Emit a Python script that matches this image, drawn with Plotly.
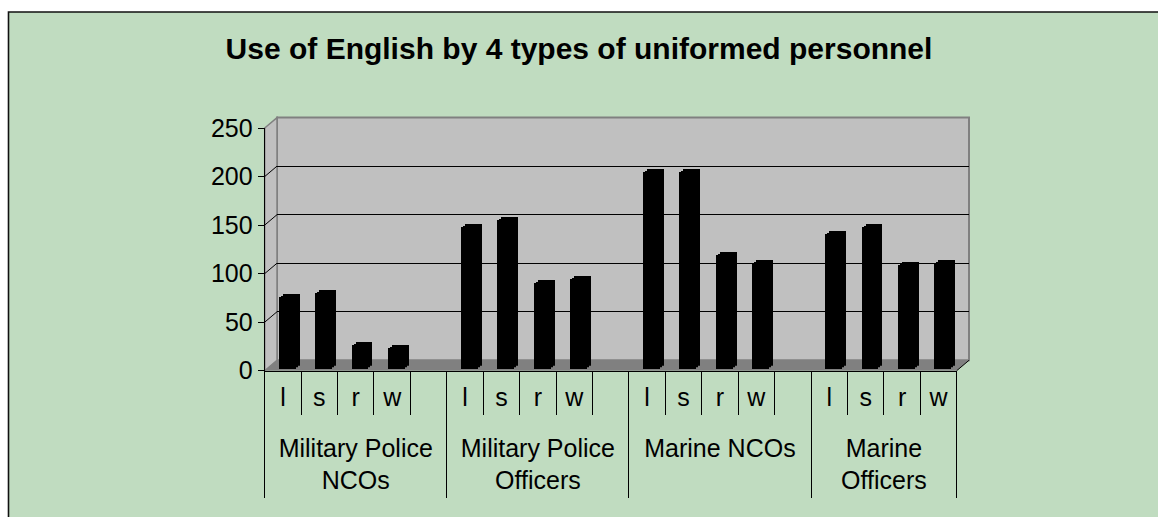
import plotly.graph_objects as go

# ---------------- data ----------------
title_text = "Use of English by 4 types of uniformed personnel"
groups = ["Military Police<br>NCOs", "Military Police<br>Officers", "Marine NCOs", "Marine<br>Officers"]
skills = ["l", "s", "r", "w"]
mp_ncos = [74, 78, 24, 21]
mp_officers = [146, 153, 88, 92]
marine_ncos = [203, 203, 117, 109]
marine_officers = [139, 146, 107, 109]
y_ticks = [0, 50, 100, 150, 200, 250]

series = [mp_ncos, mp_officers, marine_ncos, marine_officers]

# -------------- slot positions (one empty slot between groups) --------------
slot_x, bar_vals, slot_labels = [], [], []
group_bounds, group_centers = [-0.5], []
pos = 0
for gi, gvals in enumerate(series):
    start = pos
    for s, v in zip(skills, gvals):
        slot_x.append(pos)
        bar_vals.append(v)
        slot_labels.append(s)
        pos += 1
    if gi < len(series) - 1:
        pos += 1
    group_centers.append((start - 0.5 + pos - 0.5) / 2)
    group_bounds.append(pos - 0.5)
n_slots = pos
xr = [-0.5, n_slots - 0.5]
slot_bounds = [i - 0.5 for i in range(n_slots + 1)]
yr = [0, 250]

# -------------- pixel geometry helpers --------------
W, H = 1158, 517
def px(p):
    return p / W
def py(p):
    return 1 - p / H

FX0, FX1 = 264.7, 956.7        # front plane x extent
FY0, FY1 = 370.7, 128.0        # front plane y of 0 and 250
DX, DY = 12.3, -10.4           # depth offset to the back wall
unit_px = (FY0 - FY1) / (yr[1] - yr[0])

FONT = "Liberation Sans, Arial, sans-serif"
GREEN = "#C0DCC0"
WALL = "#C0C0C0"
FLOOR = "#808080"
FS = 25

fig = go.Figure()

# back wall subplot (gridlines)
fig.add_trace(go.Scatter(x=[], y=[], xaxis="x", yaxis="y", showlegend=False))
# front subplot (axes/labels)
fig.add_trace(go.Scatter(x=[], y=[], xaxis="x2", yaxis="y2", showlegend=False))

# bar layers (back to front) to give a little depth
bar_layers = [(3, (8.3, -5.0)), (4, (6.2, -3.4)), (5, (4.0, -1.7))]
for idx, (dx, dy) in bar_layers:
    fig.add_trace(go.Bar(x=slot_x, y=bar_vals, width=0.46,
                         marker=dict(color="black", line=dict(width=0)),
                         xaxis=f"x{idx}", yaxis=f"y{idx}",
                         showlegend=False, hoverinfo="skip"))

# overlay axes for separators and group labels
for k in (6, 7, 8):
    fig.add_trace(go.Scatter(x=[], y=[], xaxis=f"x{k}", yaxis="y2", showlegend=False))

layout = dict(
    width=W, height=H,
    margin=dict(l=0, r=0, t=0, b=0, pad=0, autoexpand=False),
    paper_bgcolor="white",
    plot_bgcolor="rgba(0,0,0,0)",
    font=dict(family=FONT, size=FS, color="black"),
    title=dict(text=title_text, x=0.5, xanchor="center", y=py(48.5), yanchor="middle",
               font=dict(family=FONT, size=30, color="black", weight="bold")),
    showlegend=False,
    bargap=0,
)

# back wall axes
layout["xaxis"] = dict(domain=[px(FX0 + DX), px(FX1 + DX)], range=xr, anchor="y",
                       showgrid=False, zeroline=False, showticklabels=False, ticks="",
                       showline=False, fixedrange=True)
layout["yaxis"] = dict(domain=[py(FY0 + DY), py(FY1 + DY)], range=yr, anchor="x",
                       tickvals=y_ticks[1:-1], showgrid=True, gridcolor="black", gridwidth=1,
                       zeroline=False, showticklabels=False, ticks="", showline=False,
                       fixedrange=True)
# front axes
layout["xaxis2"] = dict(domain=[px(FX0), px(FX1)], range=xr, anchor="y2",
                        tickmode="array", tickvals=slot_x, ticktext=slot_labels,
                        ticks="", showgrid=False, zeroline=False,
                        showline=True, linecolor="black", linewidth=1,
                        tickfont=dict(size=FS), ticklabelstandoff=4, fixedrange=True)
layout["yaxis2"] = dict(domain=[py(FY0), py(FY1)], range=yr, anchor="x2",
                        tickmode="array", tickvals=y_ticks,
                        ticks="outside", ticklen=6, tickcolor="black", tickwidth=1,
                        showline=True, linecolor="black", linewidth=1,
                        showgrid=False, zeroline=False, tickfont=dict(size=FS),
                        fixedrange=True)
# bar layer axes
for idx, (dx, dy) in bar_layers:
    layout[f"xaxis{idx}"] = dict(domain=[px(FX0 + dx), px(FX1 + dx)], range=xr,
                                 anchor=f"y{idx}", visible=False, fixedrange=True)
    layout[f"yaxis{idx}"] = dict(domain=[py(FY0 + dy), py(FY1 + dy)], range=yr,
                                 anchor=f"x{idx}", visible=False, fixedrange=True)
# separators between skills
layout["xaxis6"] = dict(overlaying="x2", anchor="y2", range=xr, tickmode="array",
                        tickvals=slot_bounds, ticktext=[""] * len(slot_bounds),
                        ticks="outside", ticklen=43, tickcolor="black", tickwidth=1,
                        showgrid=False, zeroline=False, showline=False, fixedrange=True)
# dividers between groups
layout["xaxis7"] = dict(overlaying="x2", anchor="y2", range=xr, tickmode="array",
                        tickvals=group_bounds, ticktext=[""] * len(group_bounds),
                        ticks="outside", ticklen=126, tickcolor="black", tickwidth=1,
                        showgrid=False, zeroline=False, showline=False, fixedrange=True)
# group labels
layout["xaxis8"] = dict(overlaying="x2", anchor="y2", range=xr, tickmode="array",
                        tickvals=group_centers, ticktext=groups, ticks="",
                        ticklabelstandoff=60, tickfont=dict(size=FS),
                        showgrid=False, zeroline=False, showline=False, fixedrange=True)

shapes = []
# chart area background with border
shapes.append(dict(type="rect", xref="paper", yref="paper", layer="below",
                   x0=px(8.5), x1=1.05, y0=-0.05, y1=py(12),
                   fillcolor=GREEN, line=dict(color="#111111", width=1.6)))
# back wall
shapes.append(dict(type="rect", xref="paper", yref="paper", layer="below",
                   x0=px(FX0 + DX), x1=px(FX1 + DX), y0=py(FY0 + DY), y1=py(FY1 + DY),
                   fillcolor=WALL, line=dict(color=FLOOR, width=2)))
# side wall
side = (f"M {px(FX0)} {py(FY0)} L {px(FX0)} {py(FY1)} "
        f"L {px(FX0 + DX)} {py(FY1 + DY)} L {px(FX0 + DX)} {py(FY0 + DY)} Z")
shapes.append(dict(type="path", xref="paper", yref="paper", layer="below", path=side,
                   fillcolor=WALL, line=dict(color=FLOOR, width=1.5)))
# floor
floor = (f"M {px(FX0)} {py(FY0)} L {px(FX1)} {py(FY0)} "
         f"L {px(FX1 + DX)} {py(FY0 + DY)} L {px(FX0 + DX)} {py(FY0 + DY)} Z")
shapes.append(dict(type="path", xref="paper", yref="paper", layer="below", path=floor,
                   fillcolor=FLOOR, line=dict(width=0)))
# floor right edge
shapes.append(dict(type="line", xref="paper", yref="paper", layer="above",
                   x0=px(FX1), x1=px(FX1 + DX), y0=py(FY0), y1=py(FY0 + DY),
                   line=dict(color="black", width=1)))
# gridlines across the side wall
for v in y_ticks[1:-1]:
    shapes.append(dict(type="line", xref="paper", yref="y2", layer="above",
                       x0=px(FX0), x1=px(FX0 + DX), y0=v, y1=v - DY / unit_px,
                       line=dict(color="black", width=1)))
# top edge of side wall
shapes.append(dict(type="line", xref="paper", yref="y2", layer="above",
                   x0=px(FX0), x1=px(FX0 + DX), y0=yr[1], y1=yr[1] - DY / unit_px,
                   line=dict(color=FLOOR, width=1.5)))
layout["shapes"] = shapes

fig.update_layout(**layout)
fig.write_html("out.html", config={"displayModeBar": False},
               post_script="document.body.style.margin='0';")
